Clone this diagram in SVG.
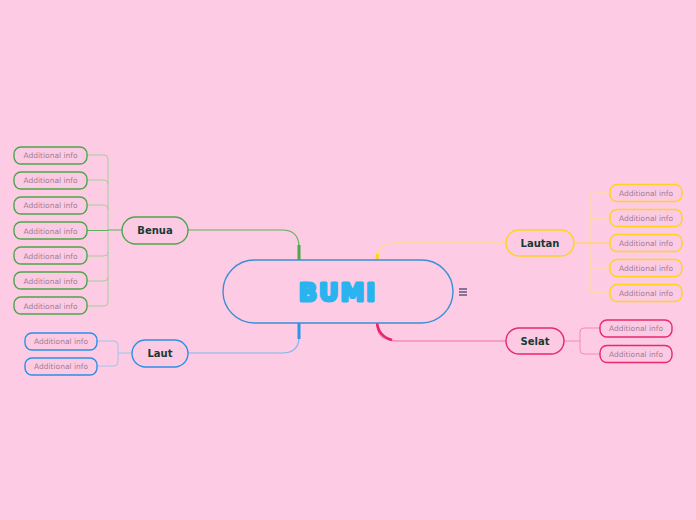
<svg xmlns="http://www.w3.org/2000/svg" width="696" height="520" viewBox="0 0 696 520">
<style>
.t{font-family:"DejaVu Sans","Liberation Sans",sans-serif;font-weight:bold;font-size:10px;fill:#173a34;text-anchor:middle;dominant-baseline:central}
.i{font-family:"DejaVu Sans","Liberation Sans",sans-serif;font-size:7.5px;fill:#a07c94;text-anchor:middle;dominant-baseline:central}
.ib{fill:#fccbe3;stroke-width:1.4}
.nb{fill:#fccbe3;stroke-width:1.4}
.c{fill:none}
</style>
<rect width="696" height="520" fill="#fdcbe3"/>
<g id="connectors">
  <path class="c" d="M299,262 L299,247 Q299,230 282,230 L188,230" stroke="#5cb05c" stroke-width="1.2"/>
  <path class="c" d="M299,262 L299,245" stroke="#4aa84a" stroke-width="3"/>
  <path class="c" d="M299,322 L299,337 Q299,353 282,353 L188,353" stroke="#7fb5ee" stroke-width="1.2"/>
  <path class="c" d="M299,322 L299,339" stroke="#2a95ea" stroke-width="3"/>
  <path class="c" d="M377,262 L377,258 Q378,243 394,243 L506,243" stroke="#ffe27a" stroke-width="1.2"/>
  <path class="c" d="M377,262 L377.5,254" stroke="#ffd21f" stroke-width="3"/>
  <path class="c" d="M377,322 L377,326 Q378,341 398,341 L506,341" stroke="#ef6f9b" stroke-width="1.2"/>
  <path class="c" d="M377,322 Q378,336 392,340" stroke="#e8246a" stroke-width="2.6"/>
  <g stroke="#9fd09a" fill="none" stroke-width="1">
    <path d="M87,155 L104,155 Q108,155 108,159 L108,302 Q108,306 104,306 L87,306"/>
    <path d="M87,180 L104,180 Q108,180 108,184"/>
    <path d="M87,205 L104,205 Q108,205 108,209"/>
    <path d="M87,256 L104,256 Q108,256 108,252"/>
    <path d="M87,281 L104,281 Q108,281 108,277"/>
  </g>
  <path d="M122,230 L108,230 M87,230.5 L108,230.5" stroke="#5cb05c" stroke-width="1" fill="none"/>
  <g stroke="#9cc6f0" fill="none" stroke-width="1">
    <path d="M132,353 L118,353"/>
    <path d="M97,341 L114,341 Q118,341 118,345 L118,362 Q118,366 114,366 L97,366"/>
  </g>
  <g stroke="#ffe08a" fill="none" stroke-width="1">
    <path d="M610,193 L594,193 Q590,193 590,197 L590,289 Q590,293 594,293 L610,293"/>
    <path d="M610,218 L594,218 Q590,218 590,222"/>
    <path d="M610,268 L594,268 Q590,268 590,264"/>
  </g>
  <path d="M574,243 L590,243 M610,243 L590,243" stroke="#ffd84a" stroke-width="1.2" fill="none"/>
  <g stroke="#f28bb0" fill="none" stroke-width="1">
    <path d="M564,341 L580,341"/>
    <path d="M600,328 L584,328 Q580,328 580,332 L580,350 Q580,354 584,354 L600,354"/>
  </g>
</g>
<g id="central">
  <rect x="223" y="260" width="230" height="63" rx="31.5" fill="#fdcbe3" stroke="#3b8ed6" stroke-width="1.4"/>
  <text x="338" y="293" font-family="DejaVu Sans, Liberation Sans, sans-serif" font-weight="bold" font-size="24" fill="#2ab4ef" stroke="#2ab4ef" stroke-width="3" stroke-linejoin="round" letter-spacing="2" text-anchor="middle" dominant-baseline="central">BUMI</text>
  <path d="M459,289 h8 M459,292 h8 M459,295 h8" stroke="#101a4a" stroke-width="1"/>
</g>
<g id="benua">
  <rect class="nb" x="122" y="217" width="66" height="27" rx="13.5" stroke="#4ca64c"/>
  <text class="t" x="155" y="230.5">Benua</text>
</g>
<g id="laut">
  <rect class="nb" x="132" y="340" width="56" height="27" rx="13.5" stroke="#2a90e6"/>
  <text class="t" x="160" y="353.5">Laut</text>
</g>
<g id="lautan">
  <rect class="nb" x="506" y="230" width="68" height="26" rx="13" stroke="#ffd21f"/>
  <text class="t" x="540" y="243.5">Lautan</text>
</g>
<g id="selat">
  <rect class="nb" x="506" y="328" width="58" height="26" rx="13" stroke="#e8286a"/>
  <text class="t" x="535" y="341.5">Selat</text>
</g>
<g id="benua-info">
  <g id="b1"><rect class="ib" x="14" y="147" width="73" height="17" rx="7" stroke="#4ca64c"/><text class="i" x="50.5" y="155.5">Additional info</text></g>
  <g id="b2"><rect class="ib" x="14" y="172" width="73" height="17" rx="7" stroke="#4ca64c"/><text class="i" x="50.5" y="180.5">Additional info</text></g>
  <g id="b3"><rect class="ib" x="14" y="197" width="73" height="17" rx="7" stroke="#4ca64c"/><text class="i" x="50.5" y="205.5">Additional info</text></g>
  <g id="b4"><rect class="ib" x="14" y="222" width="73" height="17" rx="7" stroke="#4ca64c"/><text class="i" x="50.5" y="231">Additional info</text></g>
  <g id="b5"><rect class="ib" x="14" y="247" width="73" height="17" rx="7" stroke="#4ca64c"/><text class="i" x="50.5" y="256">Additional info</text></g>
  <g id="b6"><rect class="ib" x="14" y="272" width="73" height="17" rx="7" stroke="#4ca64c"/><text class="i" x="50.5" y="281">Additional info</text></g>
  <g id="b7"><rect class="ib" x="14" y="297" width="73" height="17" rx="7" stroke="#4ca64c"/><text class="i" x="50.5" y="306">Additional info</text></g>
</g>
<g id="laut-info">
  <g id="l1"><rect class="ib" x="25" y="333" width="72" height="17" rx="7" stroke="#2a90e6"/><text class="i" x="61" y="341.5">Additional info</text></g>
  <g id="l2"><rect class="ib" x="25" y="358" width="72" height="17" rx="7" stroke="#2a90e6"/><text class="i" x="61" y="366.5">Additional info</text></g>
</g>
<g id="lautan-info">
  <g id="t1"><rect class="ib" x="610" y="184.5" width="72" height="17" rx="7" stroke="#ffd21f"/><text class="i" x="646" y="193">Additional info</text></g>
  <g id="t2"><rect class="ib" x="610" y="209.5" width="72" height="17" rx="7" stroke="#ffd21f"/><text class="i" x="646" y="218">Additional info</text></g>
  <g id="t3"><rect class="ib" x="610" y="234.5" width="72" height="17" rx="7" stroke="#ffd21f"/><text class="i" x="646" y="243">Additional info</text></g>
  <g id="t4"><rect class="ib" x="610" y="259.5" width="72" height="17" rx="7" stroke="#ffd21f"/><text class="i" x="646" y="268">Additional info</text></g>
  <g id="t5"><rect class="ib" x="610" y="284.5" width="72" height="17" rx="7" stroke="#ffd21f"/><text class="i" x="646" y="293">Additional info</text></g>
</g>
<g id="selat-info">
  <g id="s1"><rect class="ib" x="600" y="320" width="72" height="17" rx="7" stroke="#e8286a"/><text class="i" x="636" y="328.5">Additional info</text></g>
  <g id="s2"><rect class="ib" x="600" y="345.5" width="72" height="17" rx="7" stroke="#e8286a"/><text class="i" x="636" y="354">Additional info</text></g>
</g>
</svg>
